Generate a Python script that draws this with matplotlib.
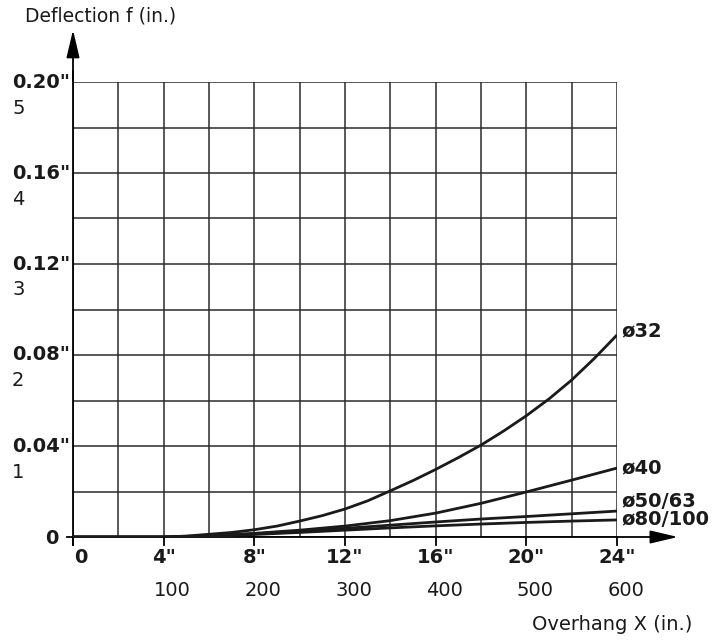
import matplotlib
matplotlib.use("Agg")
import matplotlib.pyplot as plt

# ---- data ----
x_fine = [0, 2, 4, 5, 6, 7, 8, 9, 10, 11, 12, 13, 14, 15, 16, 17, 18, 19, 20, 21, 22, 23, 24]
d32 = [0, 0, 0, 0.0004, 0.0012, 0.0020, 0.0032, 0.0048, 0.0070, 0.0094, 0.0123, 0.0159, 0.0203,
       0.0248, 0.0297, 0.0349, 0.0404, 0.0466, 0.0533, 0.0607, 0.0690, 0.0785, 0.0888]
x_coarse = [0, 2, 4, 6, 8, 10, 12, 14, 16, 18, 20, 22, 24]
d40 = [0, 0, 0, 0.0006, 0.0016, 0.0030, 0.0048, 0.0072, 0.0105, 0.0148, 0.0198, 0.0250, 0.0303]
d50 = [0, 0, 0, 0.0004, 0.0014, 0.0025, 0.0038, 0.0052, 0.0066, 0.0079, 0.0090, 0.0102, 0.0114]
d80 = [0, 0, 0, 0.0003, 0.0011, 0.0020, 0.0030, 0.0040, 0.0049, 0.0057, 0.0064, 0.0070, 0.0075]
series_x = [x_fine, x_coarse, x_coarse, x_coarse]
series = [d32, d40, d50, d80]
series_labels = ["ø32", "ø40", "ø50/63", "ø80/100"]
label_y = [0.0905, 0.0303, 0.0158, 0.0078]

x_ticks = [0, 4, 8, 12, 16, 20, 24]
x_labels_in = ["0", '4"', '8"', '12"', '16"', '20"', '24"']
x_labels_mm = ["", "100", "200", "300", "400", "500", "600"]
y_ticks = [0, 0.04, 0.08, 0.12, 0.16, 0.20]
y_labels_in = ["0", '0.04"', '0.08"', '0.12"', '0.16"', '0.20"']
y_labels_mm = ["", "1", "2", "3", "4", "5"]

plt.rcParams['font.family'] = ['DejaVu Sans']
FS = 14
TC = "#1a1a1a"

fig = plt.figure(figsize=(7.24, 6.41), dpi=100)
ax = fig.add_axes([73/724, 1-537/641, (617-73)/724, (537-82)/641])
ax.set_xlim(0, 24)
ax.set_ylim(0, 0.20)
for s in ax.spines.values():
    s.set_visible(False)
ax.set_xticks([])
ax.set_yticks([])

gc = "#2b2b2b"
for gx in range(0, 25, 2):
    ax.plot([gx, gx], [0, 0.20], color=gc, lw=1.1, zorder=1)
for i in range(11):
    gy = i * 0.02
    ax.plot([0, 24], [gy, gy], color=gc, lw=1.1, zorder=1)

# axes with arrows
arrow_style = "-|>,head_length=1.7,head_width=0.4"
ax.plot([0, 0], [-0.0035, 0.205], color="black", lw=1.3, clip_on=False, zorder=3)
ax.annotate("", xy=(0, 0.2229), xytext=(0, 0.2), xycoords="data",
            arrowprops=dict(arrowstyle=arrow_style, color="black", lw=1.3, mutation_scale=10,
                            shrinkA=0, shrinkB=0), annotation_clip=False)
ax.plot([-0.25, 24], [0, 0], color="black", lw=1.3, clip_on=False, zorder=3)
ax.annotate("", xy=(26.69, 0), xytext=(24, 0), xycoords="data",
            arrowprops=dict(arrowstyle=arrow_style, color="black", lw=1.3, mutation_scale=10,
                            shrinkA=0, shrinkB=0), annotation_clip=False)

# tick marks
for t in x_ticks:
    ax.plot([t, t], [0, -0.0035], color="black", lw=1.3, clip_on=False, zorder=3)

# curves
for xs, ys in zip(series_x, series):
    ax.plot(xs, ys, color=TC, lw=2.0, zorder=4, solid_capstyle="butt", solid_joinstyle="round")

for lab, ly in zip(series_labels, label_y):
    ax.text(24.2, ly, lab, fontsize=FS, fontweight="bold", ha="left", va="center", color=TC)

# x labels
for t, a, b in zip(x_ticks, x_labels_in, x_labels_mm):
    dx = 0.35 if t == 0 else 0
    ax.text(t + dx, -0.0088, a, fontsize=FS, fontweight="bold", ha="center", va="center", color=TC)
    if b:
        ax.text(t + 0.4, -0.0235, b, fontsize=FS, ha="center", va="center", color=TC)

# y labels
for t, a, b in zip(y_ticks, y_labels_in, y_labels_mm):
    if t == 0:
        fig.text(58/724, 1-538/641, a, fontsize=FS, fontweight="bold", ha="right", va="center", color=TC)
    else:
        yp = 1 - (537 - t/0.2*455)/641
        fig.text(12/724, yp, a, fontsize=FS, fontweight="bold", ha="left", va="center", color=TC)
        fig.text(12/724, yp - 26/641, b, fontsize=FS, ha="left", va="center", color=TC)

fig.text(25/724, 1-16/641, "Deflection f (in.)", fontsize=13.5, ha="left", va="center", color=TC)
fig.text(692/724, 1-625/641, "Overhang X (in.)", fontsize=14, ha="right", va="center", color=TC)

fig.savefig("out.png", dpi=100)
